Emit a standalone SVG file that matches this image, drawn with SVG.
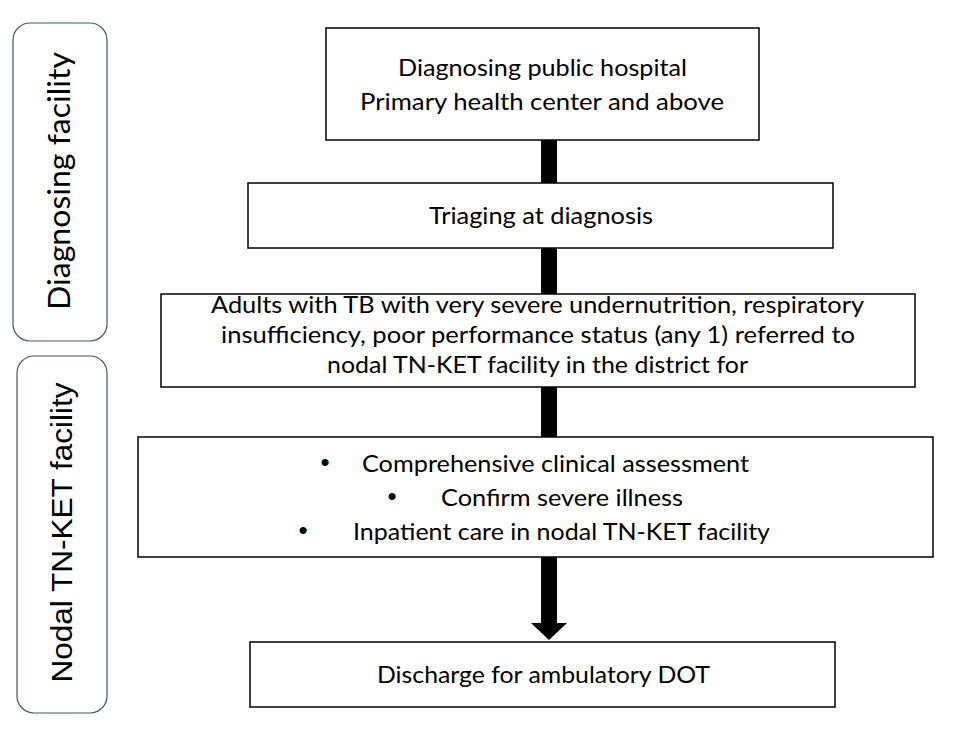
<svg xmlns="http://www.w3.org/2000/svg" width="955" height="732" viewBox="0 0 955 732">
<style>
.box{fill:#fff;stroke:#000;stroke-width:1.5}
.side{fill:#fff;stroke:#44546A;stroke-width:1.2}
.t{font-family:Lato,"Open Sans","Liberation Sans",sans-serif;font-size:24px;font-weight:400;fill:#000}
.c{text-anchor:middle}
.vt{font-family:Lato,"Liberation Sans",sans-serif;font-size:30px;fill:#000;text-anchor:middle}
.va{font-family:"Liberation Sans",Arial,sans-serif;font-size:30px;fill:#000;text-anchor:middle}
.b{font-family:"Liberation Sans",Arial,sans-serif;font-size:26px;text-anchor:middle}
.arr{fill:#000}
</style>
<rect width="955" height="732" fill="#fff"/>
<g id="connectors">
<rect class="arr" x="541" y="140" width="16" height="43"/>
<rect class="arr" x="541" y="248" width="16" height="46"/>
<rect class="arr" x="541" y="387" width="16" height="50"/>
<path class="arr" d="M541 557 H557 V623 H567 L549 640 L531 623 H541 Z"/>
</g>
<g id="lane-diagnosing">
<rect class="side" x="13" y="23" width="94" height="318" rx="17"/>
<text class="vt" transform="translate(70,181) rotate(-90)" textLength="258" lengthAdjust="spacingAndGlyphs">Diagnosing facility</text>
</g>
<g id="lane-nodal">
<rect class="side" x="17" y="356" width="90" height="357" rx="17"/>
<text class="va" transform="translate(71.5,532.5) rotate(-90)" textLength="300" lengthAdjust="spacingAndGlyphs">Nodal TN-KET facility</text>
</g>
<g id="node-hospital">
<rect class="box" x="326" y="28" width="433" height="112"/>
<text class="t c" x="542.5" y="76" textLength="289" lengthAdjust="spacingAndGlyphs">Diagnosing public hospital</text>
<text class="t c" x="542" y="110" textLength="364" lengthAdjust="spacingAndGlyphs">Primary health center and above</text>
</g>
<g id="node-triage">
<rect class="box" x="248" y="183" width="585" height="65"/>
<text class="t c" x="541" y="224" textLength="224" lengthAdjust="spacingAndGlyphs">Triaging at diagnosis</text>
</g>
<g id="node-referral">
<rect class="box" x="161" y="294" width="754" height="93"/>
<text class="t c" x="537.5" y="313" textLength="653" lengthAdjust="spacingAndGlyphs">Adults with TB with very severe undernutrition, respiratory</text>
<text class="t c" x="538" y="343" textLength="634" lengthAdjust="spacingAndGlyphs">insufficiency, poor performance status (any 1) referred to</text>
<text class="t c" x="537.5" y="373" textLength="421" lengthAdjust="spacingAndGlyphs">nodal TN-KET facility in the district for</text>
</g>
<g id="node-assessment">
<rect class="box" x="138" y="437" width="795" height="120"/>
<text class="b" x="325" y="471">•</text>
<text class="t" x="362" y="472" textLength="387" lengthAdjust="spacingAndGlyphs">Comprehensive clinical assessment</text>
<text class="b" x="392" y="505">•</text>
<text class="t" x="441" y="506" textLength="242" lengthAdjust="spacingAndGlyphs">Confirm severe illness</text>
<text class="b" x="303" y="539">•</text>
<text class="t" x="353" y="540" textLength="417" lengthAdjust="spacingAndGlyphs">Inpatient care in nodal TN-KET facility</text>
</g>
<g id="node-discharge">
<rect class="box" x="250" y="642" width="585" height="65"/>
<text class="t" x="377" y="683" textLength="333" lengthAdjust="spacingAndGlyphs">Discharge for ambulatory DOT</text>
</g>
</svg>
